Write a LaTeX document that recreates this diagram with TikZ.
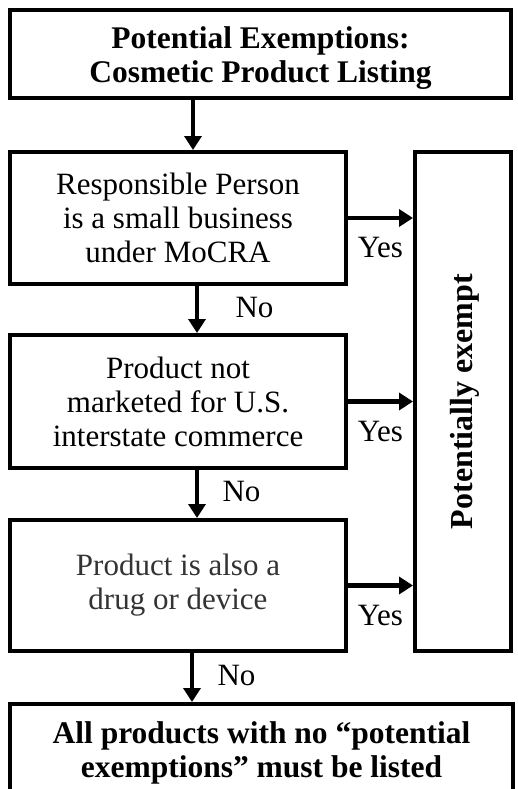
\documentclass[tikz,border=0pt]{standalone}
\usepackage{fontspec}
\setmainfont{Liberation Serif}
\usetikzlibrary{arrows.meta}

\tikzset{
  box/.style={draw, line width=4pt, align=center, inner sep=0pt},
  flow/.style={-{Triangle[length=14pt,width=17pt]}, line width=4.5pt},
  lbl/.style={font=\fontsize{31}{33}\selectfont},
  headline/.style={font=\bfseries\fontsize{31.5}{34}\selectfont, text height=58pt, text depth=0pt},
}

\begin{document}
\begin{tikzpicture}[x=1pt, y=-1pt, font=\fontsize{31}{34}\selectfont]
        \useasboundingbox (0,0) rectangle (518,789);

        % main column
        \node[box, headline, minimum width=501pt, minimum height=88pt]
          (title) at (260.5, 54) {Potential Exemptions:\\Cosmetic Product Listing};
        \node[box, minimum width=336pt, minimum height=132pt] (small) at (178, 218)
          {Responsible Person\\is a small business\\under MoCRA};
        \node[box, minimum width=336pt, minimum height=133pt] (trade) at (178, 401.5)
          {Product not\\marketed for U.S.\\interstate commerce};
        \node[box, minimum width=336pt, minimum height=131pt, text=black!80] (drug) at (178, 585.5)
          {Product is also a\\drug or device};
        \node[box, headline, minimum width=503pt, minimum height=88pt]
          (listed) at (261.5, 748) {All products with no ``potential\\exemptions'' must be listed};

        % side box
        \node[box, minimum width=96pt, minimum height=499pt] (exempt) at (463, 401.5) {};
        \node[rotate=90, font=\bfseries\fontsize{32}{32}\selectfont] (exempttext)
          at ([xshift=2pt]exempt.center) {Potentially exempt};

        % downward arrows
        \draw[flow] ([xshift=15pt]small.north |- title.south) -- ([xshift=15pt]small.north);
        \draw[flow] ([xshift=19pt]small.south) -- ([xshift=19pt]trade.north)
          node[lbl, pos=0.45, right=33pt] {No};
        \draw[flow] ([xshift=19pt]trade.south) -- ([xshift=19pt]drug.north)
          node[lbl, pos=0.45, right=20pt] {No};
        \draw[flow] ([xshift=14pt]drug.south) -- ([xshift=14pt]drug.south |- listed.north)
          node[lbl, pos=0.45, right=20pt] {No};

        % yes arrows
        \foreach \n in {small, trade, drug}
          \draw[flow] (\n.east) -- (\n.east -| exempt.west)
            node[lbl, midway, below=14pt] {Yes};
\end{tikzpicture}
\end{document}
